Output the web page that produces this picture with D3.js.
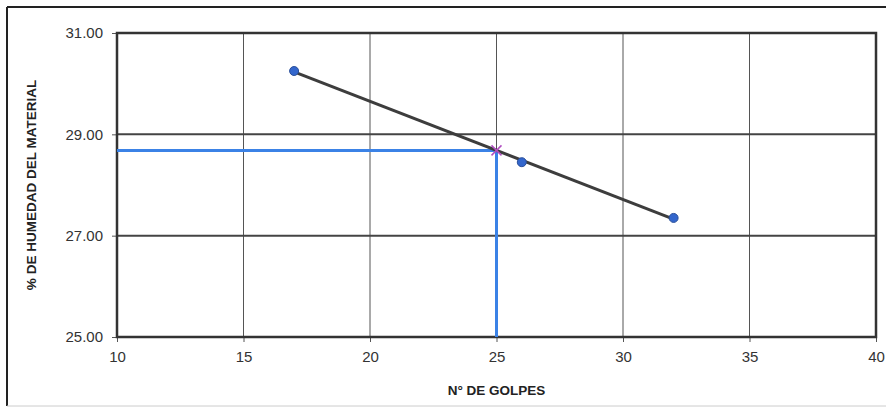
<!DOCTYPE html>
<html>
<head>
<meta charset="utf-8">
<script src="https://cdn.jsdelivr.net/npm/d3@7"></script>
<style>
  html, body { margin: 0; padding: 0; background: #fff; }
  svg { display: block; }
</style>
</head>
<body>
<svg id="chart" width="886" height="408"></svg>
<script>
// ---- data ----
const golpes = [17, 26, 32];
const humedad = [30.25, 28.45, 27.35];
const xTicks = [10, 15, 20, 25, 30, 35, 40];
const yTicks = [25, 27, 29, 31];
const targetGolpes = 25;
const xTitle = "N° DE GOLPES";
const yTitle = "% DE HUMEDAD DEL MATERIAL";

const svg = d3.select("#chart");
const W = 886, H = 408;
const m = { left: 117, top: 33, right: 876, bottom: 337 };
const FONT = "Arial, 'Liberation Sans', sans-serif";

const x = d3.scaleLinear().domain([10, 40]).range([m.left, m.right]);
const y = d3.scaleLinear().domain([25, 31]).range([m.bottom, m.top]);

// outer frame (top/left, right beyond page)
svg.append("line").attr("x1", 7).attr("x2", W + 5).attr("y1", 7).attr("y2", 7)
  .attr("stroke", "#222").attr("stroke-width", 2);
svg.append("line").attr("x1", 7).attr("x2", 7).attr("y1", 7).attr("y2", 406)
  .attr("stroke", "#222").attr("stroke-width", 2);
svg.append("line").attr("x1", 7).attr("x2", W).attr("y1", 406).attr("y2", 406)
  .attr("stroke", "#ccc").attr("stroke-width", 1);

// vertical gridlines
svg.append("g").selectAll("line").data(xTicks.slice(1, -1)).join("line")
  .attr("x1", d => x(d)).attr("x2", d => x(d))
  .attr("y1", m.top).attr("y2", m.bottom)
  .attr("stroke", "#555").attr("stroke-width", 1);

// horizontal gridlines
svg.append("g").selectAll("line").data(yTicks.slice(1, -1)).join("line")
  .attr("x1", m.left).attr("x2", m.right)
  .attr("y1", d => y(d)).attr("y2", d => y(d))
  .attr("stroke", "#444").attr("stroke-width", 2);

// axes
const yAxis = d3.axisLeft(y).tickValues(yTicks).tickFormat(d3.format(".2f")).tickSize(5).tickPadding(9);
const gy = svg.append("g").attr("transform", `translate(${m.left},0)`).call(yAxis);
const xAxis = d3.axisBottom(x).tickValues(xTicks).tickFormat(d3.format("d")).tickSize(5).tickPadding(9);
const gx = svg.append("g").attr("transform", `translate(0,${m.bottom})`).call(xAxis);
[gy, gx].forEach(g => {
  g.select(".domain").remove();
  g.selectAll(".tick line").attr("stroke", "#555");
  g.selectAll("text").attr("font-family", FONT)
    .attr("font-size", 15).attr("fill", "#333");
});

// plot border
svg.append("rect").attr("x", m.left).attr("y", m.top)
  .attr("width", m.right - m.left).attr("height", m.bottom - m.top)
  .attr("fill", "none").attr("stroke", "#333").attr("stroke-width", 2.5);

// linear trend line through the points
const mx = d3.mean(golpes), my = d3.mean(humedad);
const slope = d3.sum(golpes, (g, i) => (g - mx) * (humedad[i] - my)) / d3.sum(golpes, g => (g - mx) ** 2);
const fit = g => my + slope * (g - mx);
const xs = d3.extent(golpes);
const hAt25 = fit(targetGolpes);

// blue reference lines
svg.append("path")
  .attr("d", d3.line()([[x(10), y(hAt25)], [x(targetGolpes), y(hAt25)], [x(targetGolpes), y(25)]]))
  .attr("fill", "none").attr("stroke", "#3b82e6").attr("stroke-width", 3);

// trend line
svg.append("line")
  .attr("x1", x(xs[0])).attr("y1", y(fit(xs[0])))
  .attr("x2", x(xs[1])).attr("y2", y(fit(xs[1])))
  .attr("stroke", "#3d3d3d").attr("stroke-width", 3);

// points
svg.append("g").selectAll("circle").data(golpes).join("circle")
  .attr("cx", d => x(d)).attr("cy", (d, i) => y(humedad[i]))
  .attr("r", 4.5).attr("fill", "#3366cc").attr("stroke", "#2a4f9a").attr("stroke-width", 1);

// X marker at 25 golpes
const cx = x(targetGolpes), cy = y(hAt25), s = 5;
svg.append("path")
  .attr("d", `M${cx - s},${cy - s}L${cx + s},${cy + s}M${cx - s},${cy + s}L${cx + s},${cy - s}`)
  .attr("stroke", "#b04dc0").attr("stroke-width", 1.5);

// titles
svg.append("text").attr("x", x(25)).attr("y", 395)
  .attr("text-anchor", "middle")
  .attr("font-family", FONT).attr("font-weight", "bold")
  .attr("font-size", 13.5).attr("fill", "#222").text(xTitle);

svg.append("text")
  .attr("transform", `translate(36,${(m.top + m.bottom) / 2}) rotate(-90)`)
  .attr("text-anchor", "middle")
  .attr("font-family", FONT).attr("font-weight", "bold")
  .attr("font-size", 13.5).attr("fill", "#222").text(yTitle);
</script>
</body>
</html>
